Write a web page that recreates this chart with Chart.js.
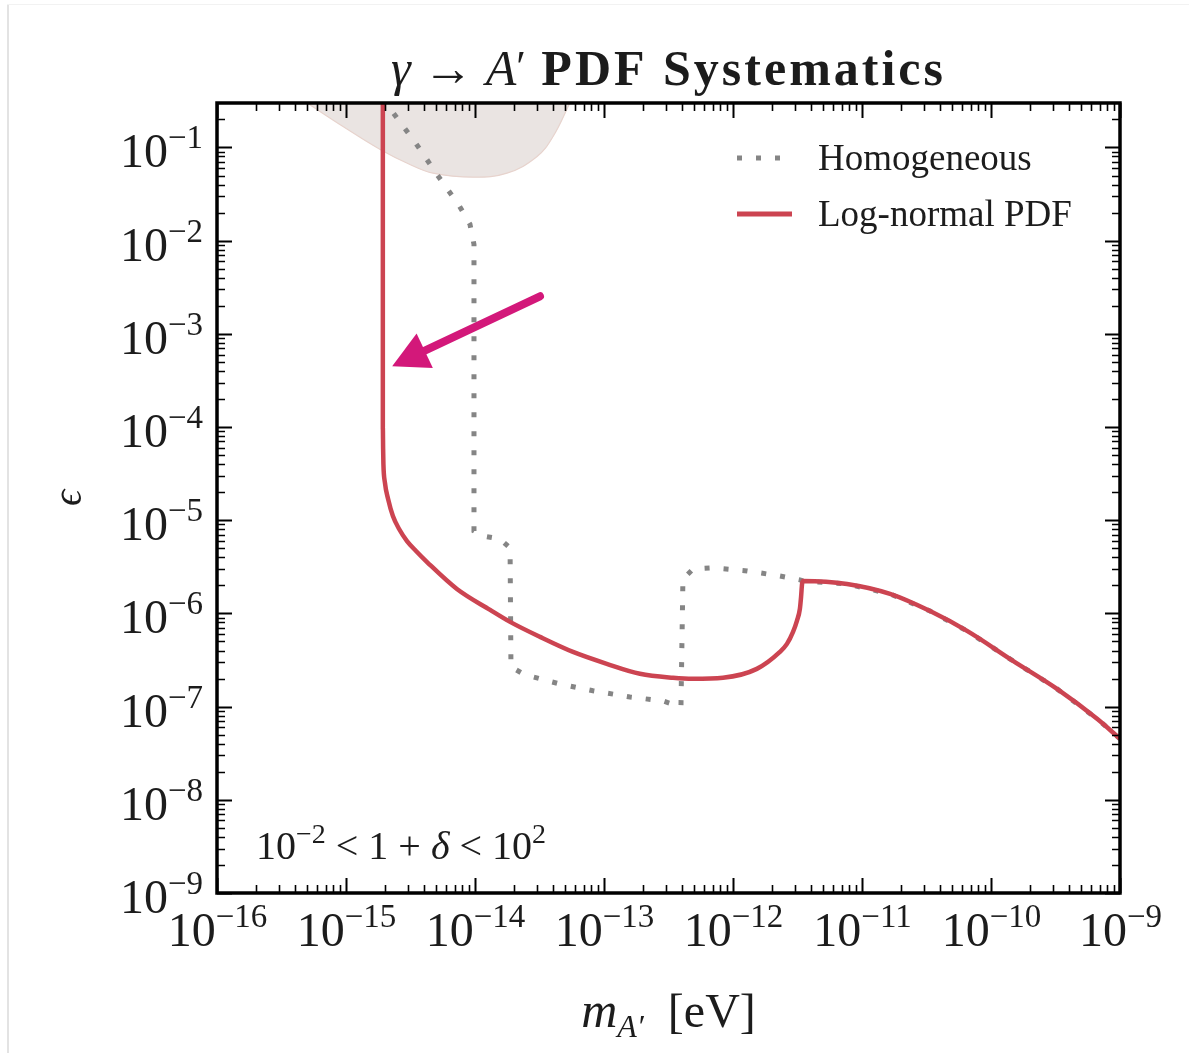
<!DOCTYPE html>
<html><head><meta charset="utf-8">
<script src="https://cdn.jsdelivr.net/npm/chart.js@4.4.1/dist/chart.umd.min.js"></script>
<style>
html,body{margin:0;padding:0;background:#fff;}
#wrap{position:relative;width:1189px;height:1053px;overflow:hidden;}
#frameL{position:absolute;left:7px;top:5px;width:2px;height:1048px;background:#e3e3e3;}
#frameT{position:absolute;left:7px;top:4px;width:1182px;height:1px;background:#f2f2f2;}
canvas{position:absolute;left:0;top:0;}
</style></head>
<body><div id="wrap"><div id="frameL"></div><div id="frameT"></div><canvas id="c" width="1189" height="1053"></canvas></div>
<script>
// ---------- data ----------
const xTickExponents = [-16, -15, -14, -13, -12, -11, -10, -9];
const yTickExponents = [-9, -8, -7, -6, -5, -4, -3, -2, -1];
const minorDigits = [2, 3, 4, 5, 6, 7, 8, 9];
const xMin = 1e-16, xMax = 1e-9, yMin = 1e-9, yMax = 0.3;

// Log-normal PDF (red solid)
const lognormalMass = [1.93e-15, 1.93e-15, 1.94e-15, 1.95e-15, 2.00e-15, 2.12e-15, 2.31e-15, 2.58e-15, 2.97e-15, 3.49e-15, 4.25e-15, 7.24e-15, 1.31e-14, 1.87e-14, 3.19e-14, 5.75e-14, 1.05e-13, 1.90e-13, 3.43e-13, 4.90e-13, 8.36e-13, 1.53e-12, 2.31e-12, 2.62e-12, 2.92e-12, 3.13e-12, 3.30e-12, 3.37e-12, 3.43e-12, 3.49e-12, 7.66e-12, 1.65e-11, 3.37e-11, 6.52e-11, 1.48e-10, 3.25e-10, 6.64e-10, 1.0e-9];
const lognormalEps  = [0.5, 1.0e-4, 5.8e-5, 4.0e-5, 2.57e-5, 1.69e-5, 1.11e-5, 8.05e-6, 5.98e-6, 4.68e-6, 3.56e-6, 1.83e-6, 1.09e-6, 8.11e-7, 5.60e-7, 3.86e-7, 2.88e-7, 2.25e-7, 2.04e-7, 1.99e-7, 2.04e-7, 2.54e-7, 3.86e-7, 4.71e-7, 6.34e-7, 8.32e-7, 1.12e-6, 1.50e-6, 2.07e-6, 2.23e-6, 2.07e-6, 1.62e-6, 1.06e-6, 6.49e-7, 3.10e-7, 1.55e-7, 7.40e-8, 4.52e-8];

// Homogeneous (gray dotted)
const homogeneousMass = [2.00e-15, 2.31e-15, 3.49e-15, 5.07e-15, 7.52e-15, 9.14e-15, 9.82e-15, 9.82e-15, 1.15e-14, 1.56e-14, 1.87e-14, 1.90e-14, 2.44e-14, 4.56e-14, 8.22e-14, 1.59e-13, 2.86e-13, 3.95e-13, 4.09e-13, 4.90e-13, 7.00e-13, 1.29e-12, 2.31e-12, 3.30e-12, 3.49e-12, 7.66e-12, 1.65e-11, 3.37e-11, 6.52e-11, 1.48e-10, 3.25e-10, 6.64e-10, 1.0e-9];
const homogeneousEps  = [0.35, 0.237, 0.110, 5.14e-2, 2.39e-2, 1.50e-2, 9.12e-3, 7.66e-6, 6.78e-6, 6.30e-6, 5.04e-6, 2.67e-7, 2.19e-7, 1.75e-7, 1.48e-7, 1.27e-7, 1.15e-7, 9.95e-8, 2.34e-6, 3.00e-6, 3.08e-6, 2.86e-6, 2.52e-6, 2.29e-6, 2.23e-6, 2.07e-6, 1.62e-6, 1.06e-6, 6.49e-7, 3.10e-7, 1.55e-7, 7.40e-8, 4.52e-8];

// Excluded region (shaded, top)
const excludedMass = [5.0e-16, 9.48e-16, 1.84e-15, 3.13e-15, 4.72e-15, 9.64e-15, 1.77e-14, 3.03e-14, 4.03e-14, 5.44e-14];
const excludedEps  = [0.3, 0.168, 9.52e-2, 6.57e-2, 5.30e-2, 4.80e-2, 5.30e-2, 8.01e-2, 0.131, 0.3];

// Arrow annotation (tail -> tip)
const arrowTail = [3.19e-14, 2.53e-3];
const arrowTip  = [2.28e-15, 4.50e-4];

const legendLabels = ['Homogeneous', 'Log-normal PDF'];

// ---------- helpers ----------
function isDecade(v){ const l = Math.log10(v); return Math.abs(l - Math.round(l)) < 1e-6; }
function buildLogTicks(exps, maxVal){
  const t = [];
  exps.forEach(e => {
    t.push({value: Math.pow(10, e), major: true});
    minorDigits.forEach(d => { const v = d * Math.pow(10, e); if (v <= maxVal * 1.000001) t.push({value: v, major: false}); });
  });
  return t;
}
const pts = (xs, ys) => xs.map((x, i) => ({x, y: ys[i]}));

const SERIF = '"Liberation Serif", "DejaVu Serif", serif';
const INK = '#1c1c1c';
const RED = '#cc4451', GRAY = '#858585', MAGENTA = '#d3187a';

function drawRuns(ctx, runs, x0, baseline, align){
  let total = 0;
  runs.forEach(r => { ctx.font = r.font; ctx.letterSpacing = r.ls || '0px'; r.w = ctx.measureText(r.text).width; total += r.w; });
  let x = align === 'center' ? x0 - total / 2 : align === 'right' ? x0 - total : x0;
  ctx.textAlign = 'left'; ctx.textBaseline = 'alphabetic';
  runs.forEach(r => { ctx.font = r.font; ctx.letterSpacing = r.ls || '0px'; ctx.fillText(r.text, x, baseline + (r.dy || 0)); x += r.w; });
  ctx.letterSpacing = '0px';
}
function powerRuns(v){
  const e = Math.round(Math.log10(v));
  return [
    {text: '10', font: '48px ' + SERIF},
    {text: (e < 0 ? '\u2212' : '') + Math.abs(e), font: '33px ' + SERIF, dy: -19}
  ];
}

const decorPlugin = {
  id: 'decor',
  afterDatasetsDraw(chart){
    const {ctx, chartArea: a, scales: {x, y}} = chart;
    ctx.save();
    // arrow
    const tx = x.getPixelForValue(arrowTail[0]), ty = y.getPixelForValue(arrowTail[1]);
    const hx = x.getPixelForValue(arrowTip[0]),  hy = y.getPixelForValue(arrowTip[1]);
    const dx = hx - tx, dy = hy - ty, len = Math.hypot(dx, dy), ux = dx / len, uy = dy / len;
    const headL = 36, headW = 19;
    const bx = hx - ux * headL, by = hy - uy * headL;
    ctx.strokeStyle = MAGENTA; ctx.fillStyle = MAGENTA; ctx.lineWidth = 8; ctx.lineCap = 'round';
    ctx.beginPath(); ctx.moveTo(tx, ty); ctx.lineTo(bx + ux * 4, by + uy * 4); ctx.stroke();
    ctx.beginPath(); ctx.moveTo(hx, hy); ctx.lineTo(bx - uy * headW, by + ux * headW); ctx.lineTo(bx + uy * headW, by - ux * headW); ctx.closePath(); ctx.fill();

    // ticks (inward, all four sides) + labels
    ctx.strokeStyle = '#000'; ctx.lineCap = 'butt';
    x.ticks.forEach(t => {
      if (t.value < xMin * 0.999 || t.value > xMax * 1.001) return;
      const p = Math.round(x.getPixelForValue(t.value)) + 0.5, L = t.major ? 15 : 8;
      ctx.lineWidth = t.major ? 2 : 1.6; ctx.strokeStyle = '#000';
      ctx.beginPath(); ctx.moveTo(p, a.bottom); ctx.lineTo(p, a.bottom - L); ctx.moveTo(p, a.top); ctx.lineTo(p, a.top + L); ctx.stroke();
      if (t.major && isDecade(t.value)) { ctx.fillStyle = INK; drawRuns(ctx, powerRuns(t.value), p, a.bottom + 53, 'center'); }
    });
    y.ticks.forEach(t => {
      if (t.value < yMin * 0.999 || t.value > yMax * 0.999) return;
      const p = Math.round(y.getPixelForValue(t.value)) + 0.5, L = t.major ? 15 : 8;
      ctx.lineWidth = t.major ? 2 : 1.6; ctx.strokeStyle = '#000';
      ctx.beginPath(); ctx.moveTo(a.left, p); ctx.lineTo(a.left + L, p); ctx.moveTo(a.right, p); ctx.lineTo(a.right - L, p); ctx.stroke();
      if (t.major && isDecade(t.value)) { ctx.fillStyle = INK; drawRuns(ctx, powerRuns(t.value), a.left - 14, p + 19, 'right'); }
    });
    // frame
    ctx.lineWidth = 3.5; ctx.strokeStyle = '#000';
    ctx.strokeRect(a.left, a.top, a.right - a.left, a.bottom - a.top);

    // legend
    const lx = a.right - 383, tx0 = a.right - 302, r1 = a.top + 55, r2 = a.top + 111;
    ctx.lineWidth = 5; ctx.strokeStyle = GRAY; ctx.setLineDash([5, 14]); ctx.lineCap = 'butt';
    ctx.beginPath(); ctx.moveTo(lx, r1); ctx.lineTo(lx + 50, r1); ctx.stroke();
    ctx.setLineDash([]); ctx.strokeStyle = RED; ctx.lineWidth = 5;
    ctx.beginPath(); ctx.moveTo(lx, r2); ctx.lineTo(lx + 55, r2); ctx.stroke();
    ctx.fillStyle = INK; ctx.font = '37px ' + SERIF; ctx.textBaseline = 'middle'; ctx.textAlign = 'left';
    ctx.fillText(legendLabels[0], tx0, r1 + 2);
    ctx.fillText(legendLabels[1], tx0, r2 + 2);

    // in-plot annotation
    const f = 40, fs = 28;
    drawRuns(ctx, [
      {text: '10', font: f + 'px ' + SERIF},
      {text: '\u22122', font: fs + 'px ' + SERIF, dy: -16},
      {text: ' < 1 + ', font: f + 'px ' + SERIF},
      {text: '\u03B4', font: 'italic ' + f + 'px ' + SERIF},
      {text: ' < 10', font: f + 'px ' + SERIF},
      {text: '2', font: fs + 'px ' + SERIF, dy: -16}
    ], a.left + 39, a.bottom - 34, 'left');

    // title
    const cx = (a.left + a.right) / 2;
    drawRuns(ctx, [
      {text: '\u03B3', font: 'italic 50px ' + SERIF},
      {text: ' \u2192 ', font: '50px ' + SERIF},
      {text: 'A', font: 'italic 50px ' + SERIF},
      {text: '\u2032', font: '44px ' + SERIF, dy: -4},
      {text: ' PDF Systematics', font: 'bold 50px ' + SERIF, ls: '3px'}
    ], cx, a.top - 18, 'center');

    // x axis title
    drawRuns(ctx, [
      {text: 'm', font: 'italic 50px ' + SERIF},
      {text: 'A\u2032', font: 'italic 32px ' + SERIF, dy: 10},
      {text: '  [eV]', font: '48px ' + SERIF}
    ], cx, a.bottom + 134, 'center');
    ctx.restore();
  }
};

const chart = new Chart(document.getElementById('c'), {
  type: 'scatter',
  data: {
    datasets: [
      {label: legendLabels[1], data: pts(lognormalMass, lognormalEps), showLine: true, borderColor: RED, borderWidth: 4.5, pointRadius: 0, cubicInterpolationMode: 'monotone', fill: false, clip: 0},
      {label: legendLabels[0], data: pts(homogeneousMass, homogeneousEps), showLine: true, borderColor: GRAY, borderWidth: 5, borderDash: [5, 14], borderCapStyle: 'butt', pointRadius: 0, tension: 0, fill: false, clip: 0},
      {label: 'Excluded', data: pts(excludedMass, excludedEps), showLine: true, borderColor: '#e7d3cd', borderWidth: 1.2, backgroundColor: '#eae4e2', pointRadius: 0, tension: 0.4, fill: 'end', clip: 0}
    ]
  },
  options: {
    responsive: false, animation: false, devicePixelRatio: 1,
    layout: {padding: {left: 0, right: 69, top: 103, bottom: 0}},
    plugins: {legend: {display: false}, title: {display: false}, tooltip: {enabled: false}},
    scales: {
      x: {
        type: 'logarithmic', min: xMin, max: xMax,
        afterBuildTicks: s => { s.ticks = buildLogTicks(xTickExponents, xMax); },
        afterFit: s => { s.height = 160; },
        grid: {display: false, drawTicks: false}, border: {display: false},
        ticks: {display: false, autoSkip: false}
      },
      y: {
        type: 'logarithmic', min: yMin, max: yMax,
        afterBuildTicks: s => { s.ticks = buildLogTicks(yTickExponents, yMax); },
        afterFit: s => { s.width = 217; },
        grid: {display: false, drawTicks: false}, border: {display: false},
        title: {display: true, text: '\u03F5', color: INK, font: {family: SERIF, size: 40, style: 'italic'}, padding: {top: 46, bottom: 0}},
        ticks: {display: false, autoSkip: false}
      }
    }
  },
  plugins: [decorPlugin]
});
</script>
</body></html>
